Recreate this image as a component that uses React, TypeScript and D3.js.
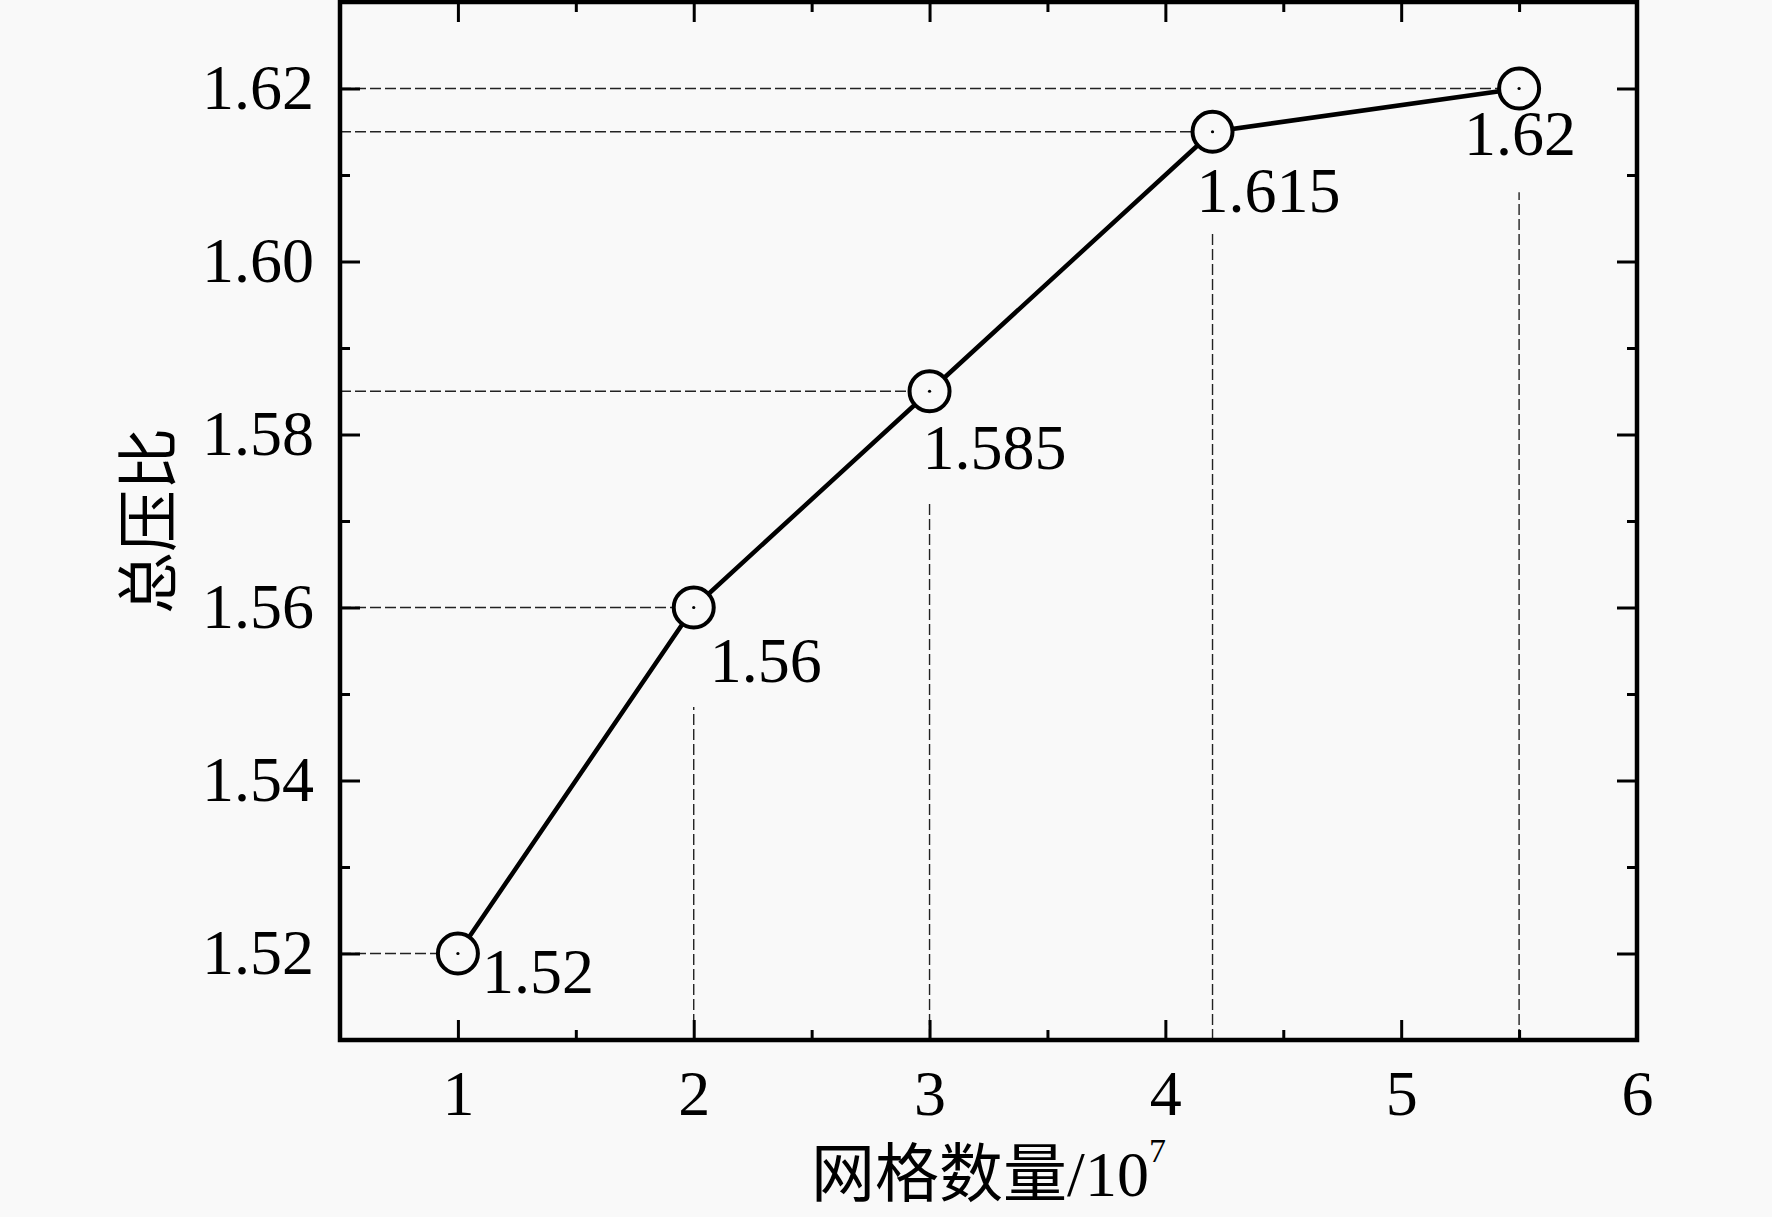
import { useEffect, useRef } from "react";
import * as d3 from "d3";

// grid count (10^7) vs total pressure ratio
const gridCounts = [1, 2, 3, 4.2, 5.5];
const pressureRatios = [1.52, 1.56, 1.585, 1.615, 1.62];
const pointLabels = ["1.52", "1.56", "1.585", "1.615", "1.62"];
// top of the vertical guide line under each point (in y units), null = none
const dropTops: (number | null)[] = [null, 1.5485, 1.572, 1.6034, 1.608];
// label offset from the point, px
const labelOffsets = [
  [24, 39],
  [16, 74],
  [-7, 78],
  [-16, 80],
  [-55, 66],
];

const xMajor = [1, 2, 3, 4, 5, 6];
const xMinor = [1.5, 2.5, 3.5, 4.5, 5.5];
const yMajor = [1.52, 1.54, 1.56, 1.58, 1.6, 1.62];
const yMinor = [1.53, 1.55, 1.57, 1.59, 1.61];

const W = 1772;
const H = 1217;
const BG = "#f9f9f9";
const SERIF = "'Liberation Serif', 'Times New Roman', 'Noto Sans CJK SC', serif";

function App() {
  const svgRef = useRef<SVGSVGElement | null>(null);

  useEffect(() => {
    document.body.style.margin = "0";
    const svg = d3.select(svgRef.current);
    svg.selectAll("*").remove();

    const left = 340, right = 1637, top = 2, bottom = 1040;
    const x = d3.scaleLinear().domain([0.5, 6]).range([left, right]);
    const y = d3.scaleLinear().domain([1.51, 1.63]).range([bottom, top]);

    svg.append("rect").attr("width", W).attr("height", H).attr("fill", BG);

    const guides = svg.append("g")
      .attr("stroke", "#222")
      .attr("stroke-width", 1.4)
      .attr("stroke-dasharray", "11 4")
      .attr("fill", "none");

    // horizontal guides from y axis to point, vertical from x axis up
    gridCounts.forEach((gx, i) => {
      guides.append("line")
        .attr("x1", x(0.5)).attr("x2", x(gx))
        .attr("y1", y(pressureRatios[i])).attr("y2", y(pressureRatios[i]));
      const t = dropTops[i];
      if (t !== null) {
        guides.append("line")
          .attr("x1", x(gx)).attr("x2", x(gx))
          .attr("y1", y(1.51)).attr("y2", y(t));
      }
    });

    // ticks
    const drawAxis = (axis: d3.Axis<d3.NumberValue>, tx: number, ty: number, labels: boolean) => {
      const g = svg.append("g").attr("transform", `translate(${tx},${ty})`).call(axis);
      g.select(".domain").remove();
      g.selectAll(".tick line").attr("stroke", "#000").attr("stroke-width", 3);
      if (labels) {
        g.selectAll(".tick text")
          .attr("fill", "#000")
          .style("font-family", SERIF)
          .style("font-size", "64px");
      } else {
        g.selectAll(".tick text").remove();
      }
      return g;
    };

    drawAxis(d3.axisBottom(x).tickValues(xMajor).tickSizeInner(-20).tickSizeOuter(0).tickPadding(30).tickFormat(d3.format("d")), 0, bottom, true);
    drawAxis(d3.axisBottom(x).tickValues(xMinor).tickSizeInner(-10).tickSizeOuter(0), 0, bottom, false);
    drawAxis(d3.axisTop(x).tickValues(xMajor).tickSizeInner(-20).tickSizeOuter(0), 0, top, false);
    drawAxis(d3.axisTop(x).tickValues(xMinor).tickSizeInner(-10).tickSizeOuter(0), 0, top, false);

    drawAxis(d3.axisLeft(y).tickValues(yMajor).tickSizeInner(-20).tickSizeOuter(0).tickPadding(26).tickFormat(d3.format(".2f")), left, 0, true);
    drawAxis(d3.axisLeft(y).tickValues(yMinor).tickSizeInner(-10).tickSizeOuter(0), left, 0, false);
    drawAxis(d3.axisRight(y).tickValues(yMajor).tickSizeInner(-20).tickSizeOuter(0), right, 0, false);
    drawAxis(d3.axisRight(y).tickValues(yMinor).tickSizeInner(-10).tickSizeOuter(0), right, 0, false);

    // frame
    svg.append("rect")
      .attr("x", left).attr("y", top)
      .attr("width", right - left).attr("height", bottom - top)
      .attr("fill", "none").attr("stroke", "#000").attr("stroke-width", 4.5);

    // data line
    const pts = gridCounts.map((gx, i) => [gx, pressureRatios[i]] as [number, number]);
    const line = d3.line<[number, number]>().x(d => x(d[0])).y(d => y(d[1]));
    svg.append("path")
      .attr("d", line(pts))
      .attr("fill", "none")
      .attr("stroke", "#000")
      .attr("stroke-width", 4.5)
      .attr("stroke-linejoin", "round");

    // markers
    const mk = svg.append("g").selectAll("g").data(pts).enter().append("g")
      .attr("transform", d => `translate(${x(d[0])},${y(d[1])})`);
    mk.append("circle").attr("r", 20).attr("fill", BG).attr("stroke", "#000").attr("stroke-width", 4);
    mk.append("circle").attr("r", 1.6).attr("fill", "#000");

    // value labels
    svg.append("g").selectAll("text").data(pts).enter().append("text")
      .attr("x", (d, i) => x(d[0]) + labelOffsets[i][0])
      .attr("y", (d, i) => y(d[1]) + labelOffsets[i][1])
      .style("font-family", SERIF)
      .style("font-size", "64px")
      .attr("fill", "#000")
      .text((_, i) => pointLabels[i]);

    // axis titles
    const xt = svg.append("text")
      .attr("x", (left + right) / 2)
      .attr("y", 1196)
      .attr("text-anchor", "middle")
      .style("font-family", SERIF)
      .style("font-size", "64px")
      .attr("fill", "#000");
    xt.append("tspan").text("网格数量/10");
    xt.append("tspan").attr("dy", -34).style("font-size", "34px").text("7");

    svg.append("text")
      .attr("transform", `translate(150,${(top + bottom) / 2}) rotate(-90)`)
      .attr("text-anchor", "middle")
      .attr("dominant-baseline", "central")
      .style("font-family", SERIF)
      .style("font-size", "62px")
      .attr("fill", "#000")
      .text("总压比");
  }, []);

  return <svg ref={svgRef} width={W} height={H} style={{ display: "block" }}></svg>;
}

export default App;
